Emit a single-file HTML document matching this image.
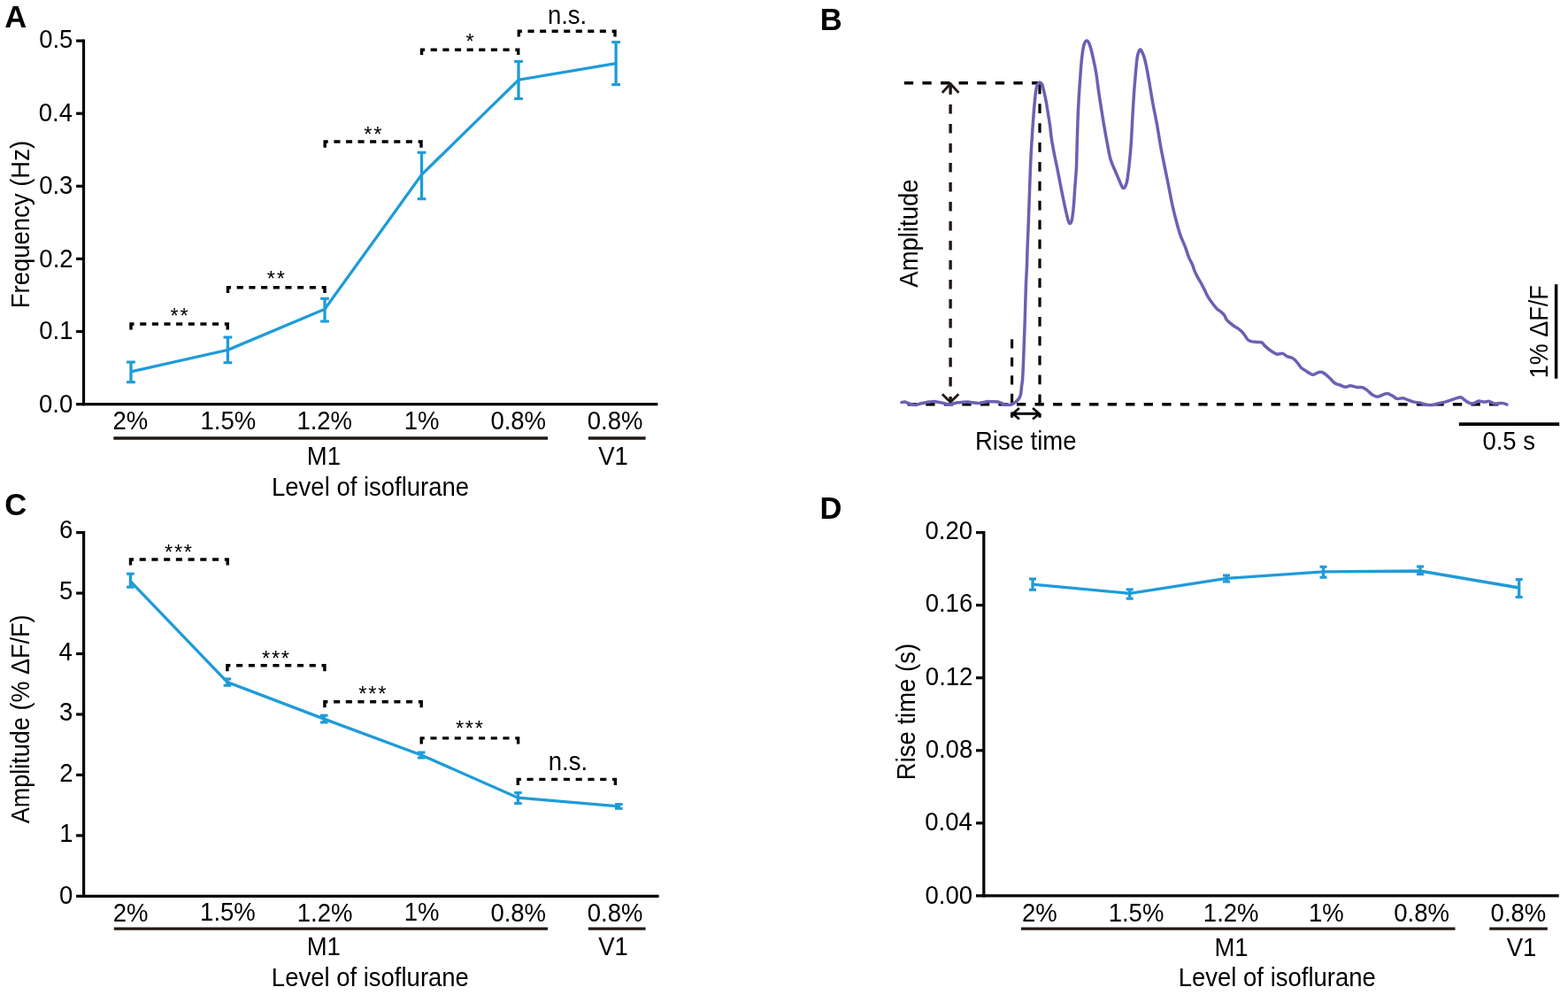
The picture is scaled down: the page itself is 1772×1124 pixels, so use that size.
<!DOCTYPE html>
<html><head><meta charset="utf-8"><title>Figure</title>
<style>
html,body{margin:0;padding:0;background:#fff;}
svg{display:block;}
text{font-family:"Liberation Sans",Arial,Helvetica,sans-serif;font-kerning:none;}
</style></head>
<body>
<svg width="1772" height="1124" viewBox="0 0 1772 1124">
<rect width="1772" height="1124" fill="#fff"/>
<text x="5.19" y="30.54" font-size="34.5" font-weight="bold" fill="#000">A</text>
<line x1="94.5" y1="44.5" x2="94.5" y2="458.2" stroke="#000" stroke-width="3.2"/>
<line x1="86.1" y1="456.6" x2="743.4" y2="456.6" stroke="#000" stroke-width="3.2"/>
<line x1="86.1" y1="46.1" x2="94.5" y2="46.1" stroke="#000" stroke-width="3.2"/>
<text transform="translate(44.13,54.1) scale(1,1.055)" font-size="27.5" fill="#000">0.5</text>
<line x1="86.1" y1="128.2" x2="94.5" y2="128.2" stroke="#000" stroke-width="3.2"/>
<text transform="translate(43.78,136.6) scale(1,1.055)" font-size="27.5" fill="#000">0.4</text>
<line x1="86.1" y1="210.3" x2="94.5" y2="210.3" stroke="#000" stroke-width="3.2"/>
<text transform="translate(44.18,218.5) scale(1,1.055)" font-size="27.5" fill="#000">0.3</text>
<line x1="86.1" y1="292.4" x2="94.5" y2="292.4" stroke="#000" stroke-width="3.2"/>
<text transform="translate(44.35,301.9) scale(1,1.055)" font-size="27.5" fill="#000">0.2</text>
<line x1="86.1" y1="374.5" x2="94.5" y2="374.5" stroke="#000" stroke-width="3.2"/>
<text transform="translate(44.31,383.3) scale(1,1.055)" font-size="27.5" fill="#000">0.1</text>
<text transform="translate(44.05,465.7) scale(1,1.055)" font-size="27.5" fill="#000">0.0</text>
<text transform="translate(33.3,348.27) rotate(-90) scale(1.0,1.055)" font-size="27.5">Frequency (Hz)</text>
<path d="M148,419.8 L257.4,395.3 L367,349.2 L476.5,197.4 L586,90.2 L696.1,71.7" fill="none" stroke="#1f9bd9" stroke-width="3.3" stroke-linejoin="miter"/>
<line x1="148" y1="409.05" x2="148" y2="431.7" stroke="#1f9bd9" stroke-width="3.3"/>
<line x1="143.1" y1="409.05" x2="152.9" y2="409.05" stroke="#1f9bd9" stroke-width="3.1"/>
<line x1="143.1" y1="431.7" x2="152.9" y2="431.7" stroke="#1f9bd9" stroke-width="3.1"/>
<line x1="257.4" y1="381" x2="257.4" y2="409.7" stroke="#1f9bd9" stroke-width="3.3"/>
<line x1="252.5" y1="381" x2="262.3" y2="381" stroke="#1f9bd9" stroke-width="3.1"/>
<line x1="252.5" y1="409.7" x2="262.3" y2="409.7" stroke="#1f9bd9" stroke-width="3.1"/>
<line x1="367" y1="337.3" x2="367" y2="363" stroke="#1f9bd9" stroke-width="3.3"/>
<line x1="362.1" y1="337.3" x2="371.9" y2="337.3" stroke="#1f9bd9" stroke-width="3.1"/>
<line x1="362.1" y1="363" x2="371.9" y2="363" stroke="#1f9bd9" stroke-width="3.1"/>
<line x1="476.5" y1="172.3" x2="476.5" y2="224.7" stroke="#1f9bd9" stroke-width="3.3"/>
<line x1="471.6" y1="172.3" x2="481.4" y2="172.3" stroke="#1f9bd9" stroke-width="3.1"/>
<line x1="471.6" y1="224.7" x2="481.4" y2="224.7" stroke="#1f9bd9" stroke-width="3.1"/>
<line x1="586" y1="69.4" x2="586" y2="111.5" stroke="#1f9bd9" stroke-width="3.3"/>
<line x1="581.1" y1="69.4" x2="590.9" y2="69.4" stroke="#1f9bd9" stroke-width="3.1"/>
<line x1="581.1" y1="111.5" x2="590.9" y2="111.5" stroke="#1f9bd9" stroke-width="3.1"/>
<line x1="696.1" y1="47.6" x2="696.1" y2="95.6" stroke="#1f9bd9" stroke-width="3.3"/>
<line x1="691.2" y1="47.6" x2="701" y2="47.6" stroke="#1f9bd9" stroke-width="3.1"/>
<line x1="691.2" y1="95.6" x2="701" y2="95.6" stroke="#1f9bd9" stroke-width="3.1"/>
<path d="M148,372.4V366H151.5" fill="none" stroke="#000" stroke-width="3.4" stroke-linejoin="miter"/>
<path d="M257.2,372.4V366H253.8" fill="none" stroke="#000" stroke-width="3.4" stroke-linejoin="miter"/>
<path d="M158.2,366h7.1M171.83,366h7.1M185.47,366h7.1M199.1,366h7.1M212.73,366h7.1M226.37,366h7.1M240,366h7.1" fill="none" stroke="#000" stroke-width="3.4"/>
<text x="192.55" y="364.67" font-size="23.5" fill="#000" letter-spacing="1.8">**</text>
<path d="M257.5,331.1V324.7H261" fill="none" stroke="#000" stroke-width="3.4" stroke-linejoin="miter"/>
<path d="M367,331.1V324.7H363.6" fill="none" stroke="#000" stroke-width="3.4" stroke-linejoin="miter"/>
<path d="M267.7,324.7h7.1M281.38,324.7h7.1M295.07,324.7h7.1M308.75,324.7h7.1M322.43,324.7h7.1M336.12,324.7h7.1M349.8,324.7h7.1" fill="none" stroke="#000" stroke-width="3.4"/>
<text x="301.85" y="322.77" font-size="23.5" fill="#000" letter-spacing="1.8">**</text>
<path d="M367.2,166.7V160H370.7" fill="none" stroke="#000" stroke-width="3.4" stroke-linejoin="miter"/>
<path d="M476,166.7V160H472.6" fill="none" stroke="#000" stroke-width="3.4" stroke-linejoin="miter"/>
<path d="M377.4,160h7.1M390.97,160h7.1M404.53,160h7.1M418.1,160h7.1M431.67,160h7.1M445.23,160h7.1M458.8,160h7.1" fill="none" stroke="#000" stroke-width="3.4"/>
<text x="411.35" y="159.97" font-size="23.5" fill="#000" letter-spacing="1.8">**</text>
<path d="M476.5,61.9V56.2H480" fill="none" stroke="#000" stroke-width="3.4" stroke-linejoin="miter"/>
<path d="M585.7,61.9V56.2H582.3" fill="none" stroke="#000" stroke-width="3.4" stroke-linejoin="miter"/>
<path d="M486.7,56.2h7.1M500.33,56.2h7.1M513.97,56.2h7.1M527.6,56.2h7.1M541.23,56.2h7.1M554.87,56.2h7.1M568.5,56.2h7.1" fill="none" stroke="#000" stroke-width="3.4"/>
<text x="526.42" y="54.57" font-size="23.5" fill="#000">*</text>
<path d="M586.3,41.6V35.2H589.8" fill="none" stroke="#000" stroke-width="3.4" stroke-linejoin="miter"/>
<path d="M695,41.6V35.2H691.6" fill="none" stroke="#000" stroke-width="3.4" stroke-linejoin="miter"/>
<path d="M596.5,35.2h7.1M610.05,35.2h7.1M623.6,35.2h7.1M637.15,35.2h7.1M650.7,35.2h7.1M664.25,35.2h7.1M677.8,35.2h7.1" fill="none" stroke="#000" stroke-width="3.4"/>
<text transform="translate(618.93,27.31) scale(1,1.055)" font-size="27.5" fill="#000">n.s.</text>
<text transform="translate(127.53,485.46) scale(1,1.055)" font-size="27.5" fill="#000">2%</text>
<text transform="translate(226.55,485.33) scale(1,1.055)" font-size="27.5" fill="#000">1.5%</text>
<text transform="translate(335.4,485.46) scale(1,1.055)" font-size="27.5" fill="#000">1.2%</text>
<text transform="translate(456.72,485.33) scale(1,1.055)" font-size="27.5" fill="#000">1%</text>
<text transform="translate(554.41,485.46) scale(1,1.055)" font-size="27.5" fill="#000">0.8%</text>
<text transform="translate(663.71,485.46) scale(1,1.055)" font-size="27.5" fill="#000">0.8%</text>
<line x1="128.3" y1="495" x2="619" y2="495" stroke="#231815" stroke-width="3.3"/>
<line x1="664.8" y1="495" x2="729.6" y2="495" stroke="#231815" stroke-width="3.3"/>
<text transform="translate(346.79,525.16) scale(1,1.055)" font-size="27.5" fill="#000">M1</text>
<text transform="translate(676.24,525.16) scale(1,1.055)" font-size="27.5" fill="#000">V1</text>
<text transform="translate(307.04,560.06) scale(1,1.055)" font-size="27.5" fill="#000">Level of isoflurane</text>
<text x="5.28" y="581.99" font-size="34.5" font-weight="bold" fill="#000">C</text>
<line x1="94.6" y1="600" x2="94.6" y2="1013.95" stroke="#000" stroke-width="3.2"/>
<line x1="86.1" y1="1012.35" x2="744.6" y2="1012.35" stroke="#000" stroke-width="3.2"/>
<line x1="86.1" y1="601.6" x2="94.6" y2="601.6" stroke="#000" stroke-width="3.2"/>
<text transform="translate(67.01,608.4) scale(1,1.055)" font-size="27.5" fill="#000">6</text>
<line x1="86.1" y1="670.06" x2="94.6" y2="670.06" stroke="#000" stroke-width="3.2"/>
<text transform="translate(66.96,677.26) scale(1,1.055)" font-size="27.5" fill="#000">5</text>
<line x1="86.1" y1="738.52" x2="94.6" y2="738.52" stroke="#000" stroke-width="3.2"/>
<text transform="translate(66.61,745.62) scale(1,1.055)" font-size="27.5" fill="#000">4</text>
<line x1="86.1" y1="806.97" x2="94.6" y2="806.97" stroke="#000" stroke-width="3.2"/>
<text transform="translate(67.01,814.27) scale(1,1.055)" font-size="27.5" fill="#000">3</text>
<line x1="86.1" y1="875.43" x2="94.6" y2="875.43" stroke="#000" stroke-width="3.2"/>
<text transform="translate(67.19,882.73) scale(1,1.055)" font-size="27.5" fill="#000">2</text>
<line x1="86.1" y1="943.89" x2="94.6" y2="943.89" stroke="#000" stroke-width="3.2"/>
<text transform="translate(67.15,951.39) scale(1,1.055)" font-size="27.5" fill="#000">1</text>
<text transform="translate(66.88,1020.7) scale(1,1.055)" font-size="27.5" fill="#000">0</text>
<text transform="translate(32.6,930.22) rotate(-90) scale(0.983,1.055)" font-size="27.5">Amplitude (% ΔF/F)</text>
<path d="M147.4,656.6 L256.9,770.6 L366.2,812.1 L476.2,853 L585.4,901.2 L699.3,910.9" fill="none" stroke="#1f9bd9" stroke-width="3.3" stroke-linejoin="miter"/>
<line x1="147.4" y1="648.2" x2="147.4" y2="663.2" stroke="#1f9bd9" stroke-width="3.3"/>
<line x1="143.1" y1="648.2" x2="151.7" y2="648.2" stroke="#1f9bd9" stroke-width="3.1"/>
<line x1="143.1" y1="663.2" x2="151.7" y2="663.2" stroke="#1f9bd9" stroke-width="3.1"/>
<line x1="256.9" y1="767" x2="256.9" y2="774.3" stroke="#1f9bd9" stroke-width="3.3"/>
<line x1="252.6" y1="767" x2="261.2" y2="767" stroke="#1f9bd9" stroke-width="3.1"/>
<line x1="252.6" y1="774.3" x2="261.2" y2="774.3" stroke="#1f9bd9" stroke-width="3.1"/>
<line x1="366.2" y1="808.2" x2="366.2" y2="816" stroke="#1f9bd9" stroke-width="3.3"/>
<line x1="361.9" y1="808.2" x2="370.5" y2="808.2" stroke="#1f9bd9" stroke-width="3.1"/>
<line x1="361.9" y1="816" x2="370.5" y2="816" stroke="#1f9bd9" stroke-width="3.1"/>
<line x1="476.2" y1="850" x2="476.2" y2="856" stroke="#1f9bd9" stroke-width="3.3"/>
<line x1="471.9" y1="850" x2="480.5" y2="850" stroke="#1f9bd9" stroke-width="3.1"/>
<line x1="471.9" y1="856" x2="480.5" y2="856" stroke="#1f9bd9" stroke-width="3.1"/>
<line x1="585.4" y1="895.5" x2="585.4" y2="907.5" stroke="#1f9bd9" stroke-width="3.3"/>
<line x1="581.1" y1="895.5" x2="589.7" y2="895.5" stroke="#1f9bd9" stroke-width="3.1"/>
<line x1="581.1" y1="907.5" x2="589.7" y2="907.5" stroke="#1f9bd9" stroke-width="3.1"/>
<line x1="699.3" y1="908.6" x2="699.3" y2="913.3" stroke="#1f9bd9" stroke-width="3.3"/>
<line x1="695" y1="908.6" x2="703.6" y2="908.6" stroke="#1f9bd9" stroke-width="3.1"/>
<line x1="695" y1="913.3" x2="703.6" y2="913.3" stroke="#1f9bd9" stroke-width="3.1"/>
<path d="M147.5,638.4V632H151" fill="none" stroke="#000" stroke-width="3.4" stroke-linejoin="miter"/>
<path d="M257.2,638.4V632H253.8" fill="none" stroke="#000" stroke-width="3.4" stroke-linejoin="miter"/>
<path d="M157.7,632h7.1M171.42,632h7.1M185.13,632h7.1M198.85,632h7.1M212.57,632h7.1M226.28,632h7.1M240,632h7.1" fill="none" stroke="#000" stroke-width="3.4"/>
<text x="185.98" y="632.47" font-size="23.5" fill="#000" letter-spacing="1.8">***</text>
<path d="M256.9,758.2V751.8H260.4" fill="none" stroke="#000" stroke-width="3.4" stroke-linejoin="miter"/>
<path d="M366.9,758.2V751.8H363.5" fill="none" stroke="#000" stroke-width="3.4" stroke-linejoin="miter"/>
<path d="M267.1,751.8h7.1M280.87,751.8h7.1M294.63,751.8h7.1M308.4,751.8h7.1M322.17,751.8h7.1M335.93,751.8h7.1M349.7,751.8h7.1" fill="none" stroke="#000" stroke-width="3.4"/>
<text x="295.98" y="752.27" font-size="23.5" fill="#000" letter-spacing="1.8">***</text>
<path d="M366.9,799.2V792.8H370.4" fill="none" stroke="#000" stroke-width="3.4" stroke-linejoin="miter"/>
<path d="M476.2,799.2V792.8H472.8" fill="none" stroke="#000" stroke-width="3.4" stroke-linejoin="miter"/>
<path d="M377.1,792.8h7.1M390.75,792.8h7.1M404.4,792.8h7.1M418.05,792.8h7.1M431.7,792.8h7.1M445.35,792.8h7.1M459,792.8h7.1" fill="none" stroke="#000" stroke-width="3.4"/>
<text x="405.28" y="791.97" font-size="23.5" fill="#000" letter-spacing="1.8">***</text>
<path d="M476.2,840.4V833.9H479.7" fill="none" stroke="#000" stroke-width="3.4" stroke-linejoin="miter"/>
<path d="M585.6,840.4V833.9H582.2" fill="none" stroke="#000" stroke-width="3.4" stroke-linejoin="miter"/>
<path d="M486.4,833.9h7.1M500.07,833.9h7.1M513.73,833.9h7.1M527.4,833.9h7.1M541.07,833.9h7.1M554.73,833.9h7.1M568.4,833.9h7.1" fill="none" stroke="#000" stroke-width="3.4"/>
<text x="514.88" y="831.37" font-size="23.5" fill="#000" letter-spacing="1.8">***</text>
<path d="M585.3,886.9V880.4H588.8" fill="none" stroke="#000" stroke-width="3.4" stroke-linejoin="miter"/>
<path d="M695.4,886.9V880.4H692" fill="none" stroke="#000" stroke-width="3.4" stroke-linejoin="miter"/>
<path d="M595.5,880.4h7.1M609.28,880.4h7.1M623.07,880.4h7.1M636.85,880.4h7.1M650.63,880.4h7.1M664.42,880.4h7.1M678.2,880.4h7.1" fill="none" stroke="#000" stroke-width="3.4"/>
<text transform="translate(619.78,869.71) scale(1,1.055)" font-size="27.5" fill="#000">n.s.</text>
<text transform="translate(127.63,1040.56) scale(1,1.055)" font-size="27.5" fill="#000">2%</text>
<text transform="translate(226.1,1040.43) scale(1,1.055)" font-size="27.5" fill="#000">1.5%</text>
<text transform="translate(335.75,1040.56) scale(1,1.055)" font-size="27.5" fill="#000">1.2%</text>
<text transform="translate(456.72,1040.43) scale(1,1.055)" font-size="27.5" fill="#000">1%</text>
<text transform="translate(554.41,1040.56) scale(1,1.055)" font-size="27.5" fill="#000">0.8%</text>
<text transform="translate(663.71,1040.56) scale(1,1.055)" font-size="27.5" fill="#000">0.8%</text>
<line x1="128.8" y1="1049.2" x2="619" y2="1049.2" stroke="#231815" stroke-width="3.3"/>
<line x1="664.8" y1="1049.2" x2="729.6" y2="1049.2" stroke="#231815" stroke-width="3.3"/>
<text transform="translate(346.64,1079.46) scale(1,1.055)" font-size="27.5" fill="#000">M1</text>
<text transform="translate(676.24,1079.46) scale(1,1.055)" font-size="27.5" fill="#000">V1</text>
<text transform="translate(306.84,1114.26) scale(1,1.055)" font-size="27.5" fill="#000">Level of isoflurane</text>
<text x="926.49" y="585.64" font-size="34.5" font-weight="bold" fill="#000">D</text>
<line x1="1111.8" y1="600" x2="1111.8" y2="1013.5" stroke="#000" stroke-width="3.2"/>
<line x1="1103" y1="1011.9" x2="1761.7" y2="1011.9" stroke="#000" stroke-width="3.2"/>
<line x1="1103" y1="601.6" x2="1111.8" y2="601.6" stroke="#000" stroke-width="3.2"/>
<text transform="translate(1045.55,609) scale(1,1.055)" font-size="27.5" fill="#000">0.20</text>
<line x1="1103" y1="683.66" x2="1111.8" y2="683.66" stroke="#000" stroke-width="3.2"/>
<text transform="translate(1045.69,690.96) scale(1,1.055)" font-size="27.5" fill="#000">0.16</text>
<line x1="1103" y1="765.72" x2="1111.8" y2="765.72" stroke="#000" stroke-width="3.2"/>
<text transform="translate(1045.86,774.02) scale(1,1.055)" font-size="27.5" fill="#000">0.12</text>
<line x1="1103" y1="847.78" x2="1111.8" y2="847.78" stroke="#000" stroke-width="3.2"/>
<text transform="translate(1045.67,855.58) scale(1,1.055)" font-size="27.5" fill="#000">0.08</text>
<line x1="1103" y1="929.84" x2="1111.8" y2="929.84" stroke="#000" stroke-width="3.2"/>
<text transform="translate(1045.28,938.04) scale(1,1.055)" font-size="27.5" fill="#000">0.04</text>
<text transform="translate(1045.55,1020.7) scale(1,1.055)" font-size="27.5" fill="#000">0.00</text>
<text transform="translate(1033.8,881.13) rotate(-90) scale(1.0,1.055)" font-size="27.5">Rise time (s)</text>
<path d="M1167,660.1 L1276.7,670.4 L1386,653.3 L1495.5,645.8 L1605,645 L1716.7,664" fill="none" stroke="#1f9bd9" stroke-width="3.3" stroke-linejoin="miter"/>
<line x1="1167" y1="654" x2="1167" y2="666.3" stroke="#1f9bd9" stroke-width="3.3"/>
<line x1="1163" y1="654" x2="1171" y2="654" stroke="#1f9bd9" stroke-width="3.1"/>
<line x1="1163" y1="666.3" x2="1171" y2="666.3" stroke="#1f9bd9" stroke-width="3.1"/>
<line x1="1276.7" y1="665.9" x2="1276.7" y2="676.2" stroke="#1f9bd9" stroke-width="3.3"/>
<line x1="1272.7" y1="665.9" x2="1280.7" y2="665.9" stroke="#1f9bd9" stroke-width="3.1"/>
<line x1="1272.7" y1="676.2" x2="1280.7" y2="676.2" stroke="#1f9bd9" stroke-width="3.1"/>
<line x1="1386" y1="650" x2="1386" y2="657" stroke="#1f9bd9" stroke-width="3.3"/>
<line x1="1382" y1="650" x2="1390" y2="650" stroke="#1f9bd9" stroke-width="3.1"/>
<line x1="1382" y1="657" x2="1390" y2="657" stroke="#1f9bd9" stroke-width="3.1"/>
<line x1="1495.5" y1="640.3" x2="1495.5" y2="652.2" stroke="#1f9bd9" stroke-width="3.3"/>
<line x1="1491.5" y1="640.3" x2="1499.5" y2="640.3" stroke="#1f9bd9" stroke-width="3.1"/>
<line x1="1491.5" y1="652.2" x2="1499.5" y2="652.2" stroke="#1f9bd9" stroke-width="3.1"/>
<line x1="1605" y1="640" x2="1605" y2="648.6" stroke="#1f9bd9" stroke-width="3.3"/>
<line x1="1601" y1="640" x2="1609" y2="640" stroke="#1f9bd9" stroke-width="3.1"/>
<line x1="1601" y1="648.6" x2="1609" y2="648.6" stroke="#1f9bd9" stroke-width="3.1"/>
<line x1="1716.7" y1="654.6" x2="1716.7" y2="674.5" stroke="#1f9bd9" stroke-width="3.3"/>
<line x1="1712.7" y1="654.6" x2="1720.7" y2="654.6" stroke="#1f9bd9" stroke-width="3.1"/>
<line x1="1712.7" y1="674.5" x2="1720.7" y2="674.5" stroke="#1f9bd9" stroke-width="3.1"/>
<text transform="translate(1154.98,1041.46) scale(1,1.055)" font-size="27.5" fill="#000">2%</text>
<text transform="translate(1252.7,1041.33) scale(1,1.055)" font-size="27.5" fill="#000">1.5%</text>
<text transform="translate(1359.85,1041.46) scale(1,1.055)" font-size="27.5" fill="#000">1.2%</text>
<text transform="translate(1479.02,1041.33) scale(1,1.055)" font-size="27.5" fill="#000">1%</text>
<text transform="translate(1575.31,1041.46) scale(1,1.055)" font-size="27.5" fill="#000">0.8%</text>
<text transform="translate(1684.61,1041.46) scale(1,1.055)" font-size="27.5" fill="#000">0.8%</text>
<line x1="1154" y1="1049.1" x2="1644.5" y2="1049.1" stroke="#231815" stroke-width="3.3"/>
<line x1="1683.2" y1="1049.1" x2="1748.8" y2="1049.1" stroke="#231815" stroke-width="3.3"/>
<text transform="translate(1372.44,1080.26) scale(1,1.055)" font-size="27.5" fill="#000">M1</text>
<text transform="translate(1702.69,1080.26) scale(1,1.055)" font-size="27.5" fill="#000">V1</text>
<text transform="translate(1331.74,1114.46) scale(1,1.055)" font-size="27.5" fill="#000">Level of isoflurane</text>
<text x="926.79" y="33.54" font-size="34.5" font-weight="bold" fill="#000">B</text>
<path d="M1021.8,93.8h10.3M1042.4,93.8h10.3M1063,93.8h10.3M1083.6,93.8h10.3M1104.2,93.8h10.3M1124.8,93.8h10.3M1145.4,93.8h10.3M1166,93.8h10.3" fill="none" stroke="#000" stroke-width="3.4"/>
<path d="M1025.7,456.7h10.3M1046.24,456.7h10.3M1066.78,456.7h10.3M1087.32,456.7h10.3M1107.86,456.7h10.3M1128.4,456.7h10.3M1148.94,456.7h10.3M1169.48,456.7h10.3M1190.02,456.7h10.3M1210.56,456.7h10.3M1231.1,456.7h10.3M1251.64,456.7h10.3M1272.18,456.7h10.3M1292.72,456.7h10.3M1313.26,456.7h10.3M1333.8,456.7h10.3M1354.34,456.7h10.3M1374.88,456.7h10.3M1395.42,456.7h10.3M1415.96,456.7h10.3M1436.5,456.7h10.3M1457.04,456.7h10.3M1477.58,456.7h10.3M1498.12,456.7h10.3M1518.66,456.7h10.3M1539.2,456.7h10.3M1559.74,456.7h10.3M1580.28,456.7h10.3M1600.82,456.7h10.3M1621.36,456.7h10.3M1641.9,456.7h10.3M1662.44,456.7h10.3M1682.98,456.7h10.3" fill="none" stroke="#000" stroke-width="3.4"/>
<path d="M1074.1,94.5V106.7M1074.1,117.9V128.5M1074.1,139.9V150.5M1074.1,161.9V172.5M1074.1,183.9V194.5M1074.1,205.9V216.5M1074.1,227.9V238.5M1074.1,249.9V260.5M1074.1,271.9V282.5M1074.1,293.9V304.5M1074.1,315.9V326.5M1074.1,337.9V348.5M1074.1,359.9V370.5M1074.1,381.9V392.5M1074.1,403.9V414.5M1074.1,425.9V436.5M1074.1,447.9V454" fill="none" stroke="#231815" stroke-width="3.4"/>
<path d="M1064.8,104.8L1074.1,94.6L1083.4,104.8" fill="none" stroke="#231815" stroke-width="2.8"/>
<path d="M1064.9,445.2L1074.1,454.2L1083.3,445.2" fill="none" stroke="#231815" stroke-width="2.8"/>
<path d="M1175,95.5V106.2M1175,117.37V128.07M1175,139.24V149.94M1175,161.11V171.81M1175,182.98V193.68M1175,204.85V215.55M1175,226.72V237.42M1175,248.59V259.29M1175,270.46V281.16M1175,292.33V303.03M1175,314.2V324.9M1175,336.07V346.77M1175,357.94V368.64M1175,379.81V390.51M1175,401.68V412.38M1175,423.55V434.25M1175,445.42V456.12M1175,467.3V471.8" fill="none" stroke="#000" stroke-width="3.2"/>
<path d="M1143.6,383.2V393.5M1143.6,403.75V414.05M1143.6,424.3V434.6M1143.6,444.85V455.15M1143.6,465.4V471.8" fill="none" stroke="#000" stroke-width="3.1"/>
<line x1="1144" y1="467.3" x2="1174.6" y2="467.3" stroke="#000" stroke-width="3"/>
<path d="M1151.9,461L1144.6,467.3L1151.9,473.6" fill="none" stroke="#000" stroke-width="2.6"/>
<path d="M1167.1,461L1174.4,467.3L1167.1,473.6" fill="none" stroke="#000" stroke-width="2.6"/>
<path d="M1019,454.6C1019.57,454.52 1020.9,453.87 1022.4,454.1C1023.9,454.33 1026,455.45 1028,456C1030,456.55 1032.4,457.4 1034.4,457.4C1036.4,457.4 1038.1,456.45 1040,456C1041.9,455.55 1044.02,455.03 1045.8,454.7C1047.58,454.37 1049.05,454.18 1050.7,454C1052.35,453.82 1054.1,453.55 1055.7,453.6C1057.3,453.65 1058.77,454.05 1060.3,454.3C1061.83,454.55 1063.45,454.78 1064.9,455.1C1066.35,455.42 1067.62,455.88 1069,456.2C1070.38,456.52 1071.73,457.07 1073.2,457C1074.67,456.93 1076.27,456.18 1077.8,455.8C1079.33,455.42 1080.7,454.95 1082.4,454.7C1084.1,454.45 1086.1,454.42 1088,454.3C1089.9,454.18 1091.88,453.92 1093.8,454C1095.72,454.08 1097.6,454.55 1099.5,454.8C1101.4,455.05 1103.28,455.55 1105.2,455.5C1107.12,455.45 1109.08,454.82 1111,454.5C1112.92,454.18 1114.8,453.72 1116.7,453.6C1118.6,453.48 1120.5,453.73 1122.4,453.8C1124.3,453.87 1126.5,453.72 1128.1,454C1129.7,454.28 1130.73,455 1132,455.5C1133.27,456 1134.37,456.72 1135.7,457C1137.03,457.28 1138.73,457.23 1140,457.2C1141.27,457.17 1142.03,457.3 1143.3,456.8C1144.57,456.3 1146.25,455.27 1147.6,454.2C1148.95,453.13 1150.42,451.83 1151.4,450.4C1152.38,448.97 1152.97,448 1153.5,445.6C1154.03,443.2 1154.25,438.93 1154.6,436C1154.95,433.07 1155.28,432.33 1155.6,428C1155.92,423.67 1156.2,417.17 1156.5,410C1156.8,402.83 1157.1,393.33 1157.4,385C1157.7,376.67 1157.97,370.38 1158.3,360C1158.63,349.62 1159.03,332.7 1159.4,322.7C1159.77,312.7 1160.22,307.12 1160.5,300C1160.78,292.88 1160.83,287.35 1161.1,280C1161.37,272.65 1161.7,266.43 1162.1,255.9C1162.5,245.37 1163.02,229.83 1163.5,216.8C1163.98,203.77 1164.35,190.73 1165,177.7C1165.65,164.67 1166.63,149.55 1167.4,138.6C1168.17,127.65 1168.95,118.6 1169.6,112C1170.25,105.4 1170.7,101.95 1171.3,99C1171.9,96.05 1172.53,95.28 1173.2,94.3C1173.87,93.32 1174.57,92.97 1175.3,93.1C1176.03,93.23 1176.87,93.48 1177.6,95.1C1178.33,96.72 1178.92,99.48 1179.7,102.8C1180.48,106.12 1181.48,110.55 1182.3,115C1183.12,119.45 1183.88,125 1184.6,129.5C1185.32,134 1185.97,137.37 1186.6,142C1187.23,146.63 1187.57,151.82 1188.4,157.3C1189.23,162.78 1190.4,168.77 1191.6,174.9C1192.8,181.03 1194.27,187.43 1195.6,194.1C1196.93,200.77 1198.27,208.22 1199.6,214.9C1200.93,221.58 1202.4,228.72 1203.6,234.2C1204.8,239.68 1205.93,244.73 1206.8,247.8C1207.67,250.87 1208.05,252.47 1208.8,252.6C1209.55,252.73 1210.57,251.67 1211.3,248.6C1212.03,245.53 1212.6,240.62 1213.2,234.2C1213.8,227.78 1214.37,217.47 1214.9,210.1C1215.43,202.73 1216.05,196.65 1216.4,190C1216.75,183.35 1216.73,179.13 1217,170.2C1217.27,161.27 1217.63,146.27 1218,136.4C1218.37,126.53 1218.72,119.45 1219.2,111C1219.68,102.55 1220.33,93.3 1220.9,85.7C1221.47,78.1 1221.9,71.32 1222.6,65.4C1223.3,59.48 1224.12,53.43 1225.1,50.2C1226.08,46.97 1227.37,45.72 1228.5,46C1229.63,46.28 1230.77,48.67 1231.9,51.9C1233.03,55.13 1234.17,60.33 1235.3,65.4C1236.43,70.47 1237.67,76.1 1238.7,82.3C1239.73,88.5 1240.52,95.83 1241.5,102.6C1242.48,109.37 1243.53,116.15 1244.6,122.9C1245.67,129.65 1246.73,136.35 1247.9,143.1C1249.07,149.85 1250.4,157.2 1251.6,163.4C1252.8,169.6 1253.6,175.23 1255.1,180.3C1256.6,185.37 1258.83,189.57 1260.6,193.8C1262.37,198.03 1264.23,202.57 1265.7,205.7C1267.17,208.83 1268.13,212.52 1269.4,212.6C1270.67,212.68 1272.2,210.45 1273.3,206.2C1274.4,201.95 1275.17,194.52 1276,187.1C1276.83,179.68 1277.62,171.57 1278.3,161.7C1278.98,151.83 1279.53,137.75 1280.1,127.9C1280.67,118.05 1281.15,110.2 1281.7,102.6C1282.25,95 1282.83,88.5 1283.4,82.3C1283.97,76.1 1284.53,69.33 1285.1,65.4C1285.67,61.47 1286.08,60.17 1286.8,58.7C1287.52,57.23 1288.22,55.08 1289.4,56.6C1290.58,58.12 1292.42,62.23 1293.9,67.8C1295.38,73.37 1296.82,81.85 1298.3,90C1299.78,98.15 1301.32,108.55 1302.8,116.7C1304.28,124.85 1305.72,130.75 1307.2,138.9C1308.68,147.05 1310.22,157.45 1311.7,165.6C1313.18,173.75 1314.62,180.4 1316.1,187.8C1317.58,195.2 1319.12,202.6 1320.6,210C1322.08,217.4 1323.53,225.53 1325,232.2C1326.47,238.87 1327.92,244.43 1329.4,250C1330.88,255.57 1332.23,260.78 1333.9,265.6C1335.57,270.42 1337.77,274.63 1339.4,278.9C1341.03,283.17 1342.35,287.9 1343.7,291.2C1345.05,294.5 1346.45,296.2 1347.5,298.7C1348.55,301.2 1348.97,303.7 1350,306.2C1351.03,308.7 1352.47,311.42 1353.7,313.7C1354.93,315.98 1356.15,317.62 1357.4,319.9C1358.65,322.18 1359.95,324.92 1361.2,327.4C1362.45,329.88 1363.45,332.32 1364.9,334.8C1366.35,337.28 1368.23,340.02 1369.9,342.3C1371.57,344.58 1373.23,346.83 1374.9,348.5C1376.57,350.17 1378.45,351.05 1379.9,352.3C1381.35,353.55 1382.57,354.55 1383.6,356C1384.63,357.45 1385.07,359.55 1386.1,361C1387.13,362.45 1388.35,363.45 1389.8,364.7C1391.25,365.95 1393.13,367.35 1394.8,368.5C1396.47,369.65 1398.35,370.57 1399.8,371.6C1401.25,372.63 1402.25,373.35 1403.5,374.7C1404.75,376.05 1406.15,378.15 1407.3,379.7C1408.45,381.25 1409.17,382.97 1410.4,384C1411.63,385.03 1412.93,385.48 1414.7,385.9C1416.47,386.32 1419.13,386.33 1421,386.5C1422.87,386.67 1424.45,386.17 1425.9,386.9C1427.35,387.63 1428.23,389.52 1429.7,390.9C1431.17,392.28 1433.05,393.95 1434.7,395.2C1436.35,396.45 1438.15,397.57 1439.6,398.4C1441.05,399.23 1441.73,400.03 1443.4,400.2C1445.07,400.37 1447.73,398.98 1449.6,399.4C1451.47,399.82 1452.93,401.93 1454.6,402.7C1456.27,403.47 1458.15,403.37 1459.6,404C1461.05,404.63 1462.07,405.37 1463.3,406.5C1464.53,407.63 1465.75,409.25 1467,410.8C1468.25,412.35 1469.33,414.45 1470.8,415.8C1472.27,417.15 1474.35,417.97 1475.8,418.9C1477.25,419.83 1478.1,420.67 1479.5,421.4C1480.9,422.13 1482.32,423.47 1484.2,423.3C1486.08,423.13 1488.83,420.72 1490.8,420.4C1492.77,420.08 1494.03,420.3 1496,421.4C1497.97,422.5 1500.53,425.1 1502.6,427C1504.67,428.9 1506.45,431.47 1508.4,432.8C1510.35,434.13 1512.33,434.27 1514.3,435C1516.27,435.73 1518.25,437.07 1520.2,437.2C1522.15,437.33 1523.8,435.75 1526,435.8C1528.2,435.85 1531.07,437.18 1533.4,437.5C1535.73,437.82 1538.05,437.13 1540,437.7C1541.95,438.27 1543.27,439.52 1545.1,440.9C1546.93,442.28 1549.05,444.78 1551,446C1552.95,447.22 1554.85,448.2 1556.8,448.2C1558.75,448.2 1560.85,446.6 1562.7,446C1564.55,445.4 1566.18,444.47 1567.9,444.6C1569.62,444.73 1571.17,445.83 1573,446.8C1574.83,447.77 1576.82,449.92 1578.9,450.4C1580.98,450.88 1583.43,449.45 1585.5,449.7C1587.57,449.95 1589.23,451.17 1591.3,451.9C1593.37,452.63 1595.57,453.57 1597.9,454.1C1600.23,454.63 1603.1,454.62 1605.3,455.1C1607.5,455.58 1608.9,456.6 1611.1,457C1613.3,457.4 1616.05,457.73 1618.5,457.5C1620.95,457.27 1623.37,456.17 1625.8,455.6C1628.23,455.03 1630.9,454.67 1633.1,454.1C1635.3,453.53 1637.03,452.87 1639,452.2C1640.97,451.53 1642.93,450.68 1644.9,450.1C1646.87,449.52 1649.08,448.4 1650.8,448.7C1652.52,449 1653.62,450.83 1655.2,451.9C1656.78,452.97 1658.6,454.48 1660.3,455.1C1662,455.72 1663.57,455.93 1665.4,455.6C1667.23,455.27 1669.33,453.35 1671.3,453.1C1673.27,452.85 1675.25,454.05 1677.2,454.1C1679.15,454.15 1681.05,453.08 1683,453.4C1684.95,453.72 1686.93,455.63 1688.9,456C1690.87,456.37 1693.08,455.67 1694.8,455.6C1696.52,455.53 1697.87,455.37 1699.2,455.6C1700.53,455.83 1702.2,456.77 1702.8,457" fill="none" stroke="#6a61b3" stroke-width="3.5" stroke-linejoin="round" stroke-linecap="round"/>
<text transform="translate(1037,324.66) rotate(-90) scale(1.0,1.055)" font-size="27.5">Amplitude</text>
<text transform="translate(1101.94,508.26) scale(1,1.055)" font-size="27.5" fill="#000">Rise time</text>
<line x1="1758.6" y1="321.2" x2="1758.6" y2="427.7" stroke="#000" stroke-width="3.5"/>
<line x1="1648.8" y1="479.1" x2="1762.2" y2="479.1" stroke="#000" stroke-width="3.8"/>
<text transform="translate(1749.4,427.28) rotate(-90) scale(0.983,1.055)" font-size="27.5">1% ΔF/F</text>
<text transform="translate(1675.43,508.16) scale(1,1.055)" font-size="27.5" fill="#000">0.5 s</text>
</svg>
</body></html>
